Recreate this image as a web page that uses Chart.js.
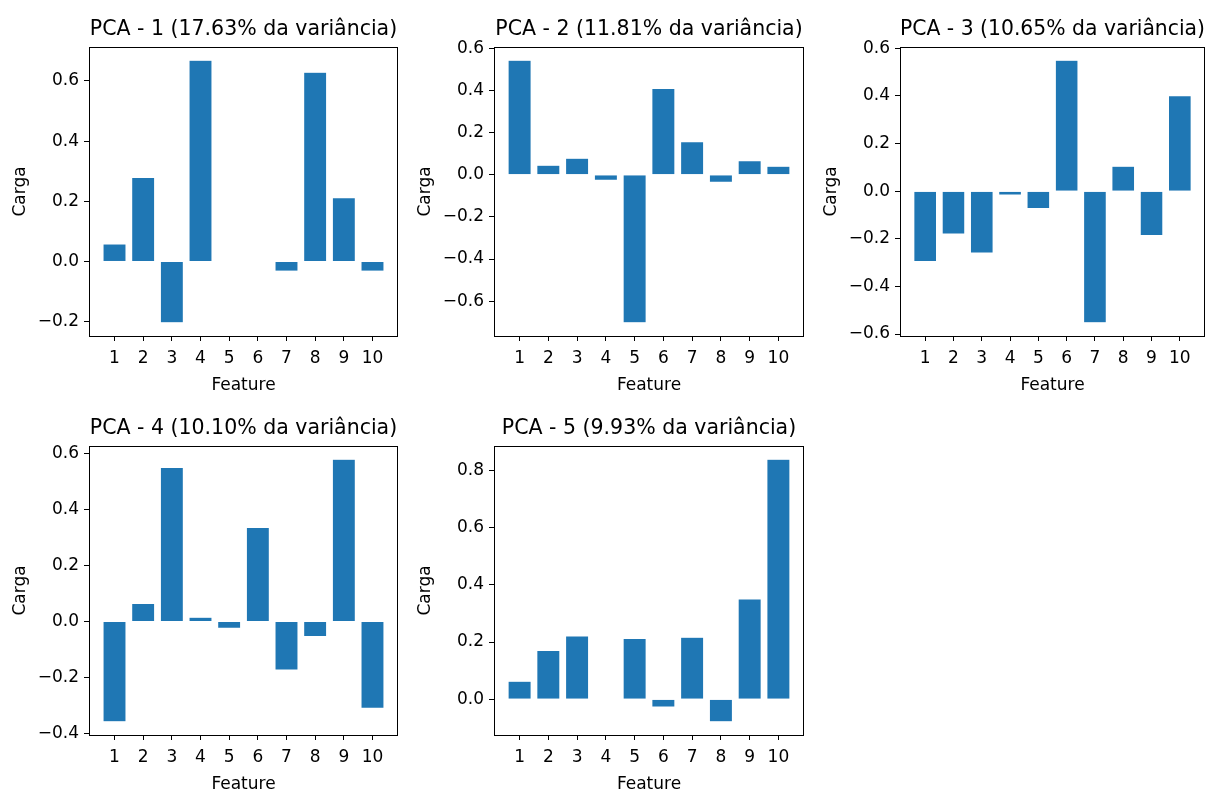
<!DOCTYPE html>
<html>
<head>
<meta charset="utf-8">
<script src="https://cdn.jsdelivr.net/npm/chart.js@4.4.1/dist/chart.umd.min.js"></script>
<style>
  html, body { margin: 0; padding: 0; background: #fff; width: 1208px; height: 790px; overflow: hidden; }
  .panel { position: absolute; }
  .panel canvas { display: block; }
</style>
</head>
<body>
<div class="panel" id="p1"><canvas id="c1"></canvas></div>
<div class="panel" id="p2"><canvas id="c2"></canvas></div>
<div class="panel" id="p3"><canvas id="c3"></canvas></div>
<div class="panel" id="p4"><canvas id="c4"></canvas></div>
<div class="panel" id="p5"><canvas id="c5"></canvas></div>
<script>
// data
const features = [1, 2, 3, 4, 5, 6, 7, 8, 9, 10];
const titles = [
    'PCA - 1 (17.63% da variância)',
    'PCA - 2 (11.81% da variância)',
    'PCA - 3 (10.65% da variância)',
    'PCA - 4 (10.10% da variância)',
    'PCA - 5 (9.93% da variância)'
];
const pca1 = [0.058, 0.279, -0.204, 0.669, 0.0, 0.0, -0.032, 0.629, 0.212, -0.032];
const pca2 = [0.545, 0.046, 0.079, -0.025, -0.703, 0.410, 0.157, -0.035, 0.067, 0.041];
const pca3 = [-0.295, -0.180, -0.260, -0.016, -0.073, 0.550, -0.553, 0.105, -0.186, 0.401];
const pca4 = [-0.359, 0.064, 0.550, 0.015, -0.024, 0.336, -0.174, -0.054, 0.580, -0.310];
const pca5 = [0.063, 0.170, 0.221, 0.0, 0.212, -0.027, 0.217, -0.079, 0.350, 0.839];
const yTicks1 = [-0.2, 0.0, 0.2, 0.4, 0.6];
const yTicks2 = [-0.6, -0.4, -0.2, 0.0, 0.2, 0.4, 0.6];
const yTicks3 = [-0.6, -0.4, -0.2, 0.0, 0.2, 0.4, 0.6];
const yTicks4 = [-0.4, -0.2, 0.0, 0.2, 0.4, 0.6];
const yTicks5 = [0.0, 0.2, 0.4, 0.6, 0.8];

// chart areas of each subplot, in page pixels
const panels = [
    { id: 1, values: pca1, ticks: yTicks1, left: 89, top: 47, right: 398, bottom: 336 },
    { id: 2, values: pca2, ticks: yTicks2, left: 494, top: 47, right: 804, bottom: 336 },
    { id: 3, values: pca3, ticks: yTicks3, left: 900, top: 47, right: 1205, bottom: 336 },
    { id: 4, values: pca4, ticks: yTicks4, left: 89, top: 446, right: 398, bottom: 735 },
    { id: 5, values: pca5, ticks: yTicks5, left: 494, top: 446, right: 804, bottom: 735 }
];

const FONT = 'DejaVu Sans';
const Y_AXIS_W = 89;
const TITLE_H = 47;
const X_AXIS_H = 60;
const PAD_R = 3;

const frame = {
    id: 'frame',
    afterDraw(chart) {
        const { ctx, chartArea: a } = chart;
        ctx.save();
        ctx.strokeStyle = '#000';
        ctx.lineWidth = 1;
        ctx.strokeRect(Math.round(a.left) + 0.5, Math.round(a.top) + 0.5,
            Math.round(a.right - a.left) - 1, Math.round(a.bottom - a.top));
        ctx.restore();
    }
};

function fmt(v) {
    const s = Math.abs(v).toFixed(1);
    return v < -1e-9 ? '\u2212' + s : s;
}

panels.forEach((p, i) => {
    const box = document.getElementById('p' + p.id);
    const canvas = document.getElementById('c' + p.id);
    const w = (p.right - p.left) + Y_AXIS_W + PAD_R;
    const h = (p.bottom - p.top) + TITLE_H + X_AXIS_H;
    box.style.left = (p.left - Y_AXIS_W) + 'px';
    box.style.top = (p.top - TITLE_H) + 'px';
    canvas.width = w;
    canvas.height = h;
    canvas.style.width = w + 'px';
    canvas.style.height = h + 'px';

    // matplotlib-style 5% margins around the data (bars start at 0)
    const lo = Math.min(0, ...p.values);
    const hi = Math.max(0, ...p.values);
    const m = (hi - lo) * 0.05;

    new Chart(canvas, {
        type: 'bar',
        data: {
            datasets: [{
                data: features.map((f, k) => ({ x: f, y: p.values[k] })),
                backgroundColor: '#1f77b4',
                borderColor: 'rgba(255,255,255,0.6)',
                borderWidth: 0.5,
                barPercentage: 1.0,
                categoryPercentage: 0.8
            }]
        },
        options: {
            responsive: false,
            animation: false,
            devicePixelRatio: 1,
            layout: { padding: { left: 0, right: PAD_R, top: 0, bottom: 0 } },
            plugins: {
                legend: { display: false },
                tooltip: { enabled: false },
                title: {
                    display: true,
                    text: titles[i],
                    fullSize: false,
                    color: '#000',
                    font: { family: FONT, size: 20.5, weight: 'normal', lineHeight: 1.2 },
                    padding: { top: 17, bottom: 5.4 }
                }
            },
            scales: {
                x: {
                    type: 'linear',
                    offset: false,
                    min: 0.11,
                    max: 10.89,
                    afterBuildTicks: s => { s.ticks = features.map(v => ({ value: v })); },
                    afterFit: s => { s.height = X_AXIS_H; },
                    grid: { offset: false, drawOnChartArea: false, tickLength: 5, tickColor: '#000' },
                    border: { display: false },
                    ticks: {
                        color: '#000', font: { family: FONT, size: 17 }, padding: 7,
                        maxRotation: 0, autoSkip: false,
                        callback: v => String(v)
                    },
                    title: {
                        display: true, text: 'Feature', color: '#000',
                        font: { family: FONT, size: 17 }, padding: { top: 0, bottom: 0 }
                    }
                },
                y: {
                    min: lo - m,
                    max: hi + m,
                    afterBuildTicks: s => { s.ticks = p.ticks.map(v => ({ value: v })); },
                    afterFit: s => { s.width = Y_AXIS_W; },
                    grid: { drawOnChartArea: false, tickLength: 5, tickColor: '#000' },
                    border: { display: false },
                    ticks: {
                        color: '#000', font: { family: FONT, size: 17 }, padding: 5,
                        callback: v => fmt(v)
                    },
                    title: {
                        display: true, text: 'Carga', color: '#000',
                        font: { family: FONT, size: 17 }, padding: { top: 10, bottom: 0 }
                    }
                }
            }
        },
        plugins: [frame]
    });
});
</script>
</body>
</html>
